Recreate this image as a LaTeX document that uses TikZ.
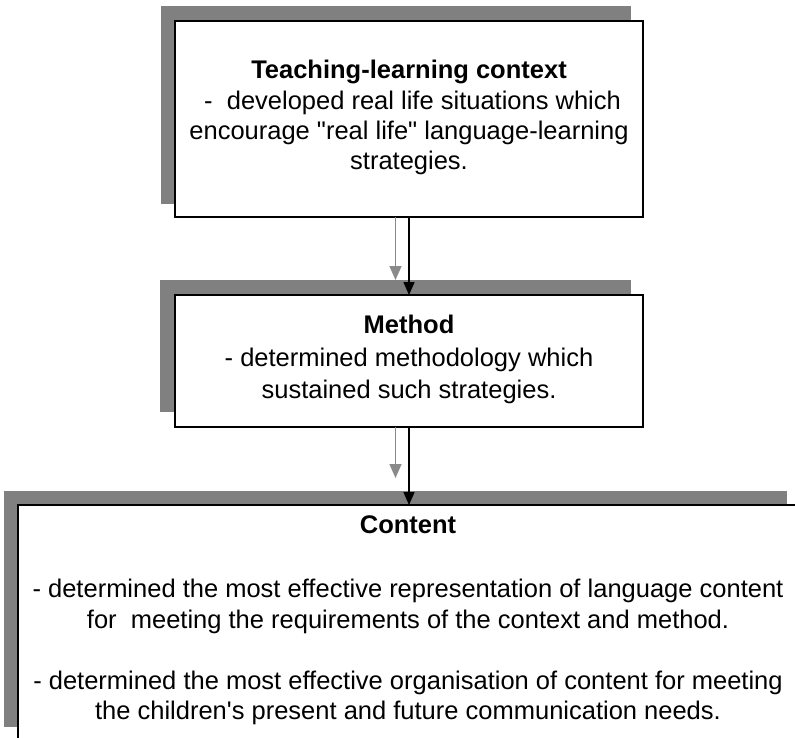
\documentclass[tikz,border=0pt]{standalone}
\usepackage{fontspec}
\setmainfont{Liberation Sans}[Ligatures=TeXOff]
\usetikzlibrary{arrows.meta}
\definecolor{shadowgray}{HTML}{808080}
\definecolor{arrowgray}{HTML}{8A8A8A}
\begin{document}
\begin{tikzpicture}[x=1pt,y=-1pt,
  shadowbox/.style={draw=none, fill=shadowgray, inner sep=0pt, outer sep=0pt},
  mainbox/.style={draw=black, line width=1.5pt, fill=white, inner sep=0pt, outer sep=0pt},
  txt/.style={align=center, inner sep=0pt},
  blackarrow/.style={line width=1.5pt, draw=black, -{Triangle[width=11pt,length=13pt]}},
  grayarrow/.style={line width=1.5pt, draw=arrowgray, -{Triangle[width=12pt,length=14pt]}}]
\useasboundingbox (0,0) rectangle (795,737);
\clip (0,0) rectangle (795,737);
\fill[white] (0,0) rectangle (795,737);

% shadows
\node[shadowbox, minimum width=470pt, minimum height=198pt] (shadow1) at (396,105) {};
\node[shadowbox, minimum width=471pt, minimum height=132pt] (shadow2) at (395.5,346) {};
\node[shadowbox, minimum width=783pt, minimum height=236pt] (shadow3) at (395.5,609) {};

% boxes
\node[mainbox, minimum width=468pt, minimum height=196pt] (box1) at (409,119) {};
\node[mainbox, minimum width=468pt, minimum height=132pt] (box2) at (409,361) {};
\node[mainbox, minimum width=784pt, minimum height=236pt] (box3) at (410,623) {};

% texts
\node[txt, font=\fontsize{25.5}{30.3}\selectfont] (text1) at (409,117.6)
  {\textbf{Teaching-learning context}\\
   \ -\ \ developed real life situations which\\
   encourage "real life" language-learning\\
   strategies.};
\node[txt, font=\fontsize{25.5}{32.5}\selectfont] (text2) at (409,359.7)
  {\textbf{Method}\\
   - determined methodology which\\
   sustained such strategies.};
\node[txt, font=\fontsize{25.5}{30.5}\selectfont] (text3) at (408,620.7)
  {\textbf{Content}\\[33.5pt]
   - determined the most effective representation of language content\\
   for\ \ meeting the requirements of the context and method.\\[30.5pt]
   - determined the most effective organisation of content for meeting\\
   the children's present and future communication needs.};

% connectors
\coordinate (g2end) at ([yshift=13pt]shadow2.north |- shadow3.north);
\draw[grayarrow] (shadow2.north |- box1.south) -- (shadow2.north);
\draw[blackarrow] (box1.south) -- (box2.north);
\draw[grayarrow] (shadow2.north |- box2.south) -- (g2end);
\draw[blackarrow] (box2.south) -- (box2.south |- box3.north);
\end{tikzpicture}
\end{document}
